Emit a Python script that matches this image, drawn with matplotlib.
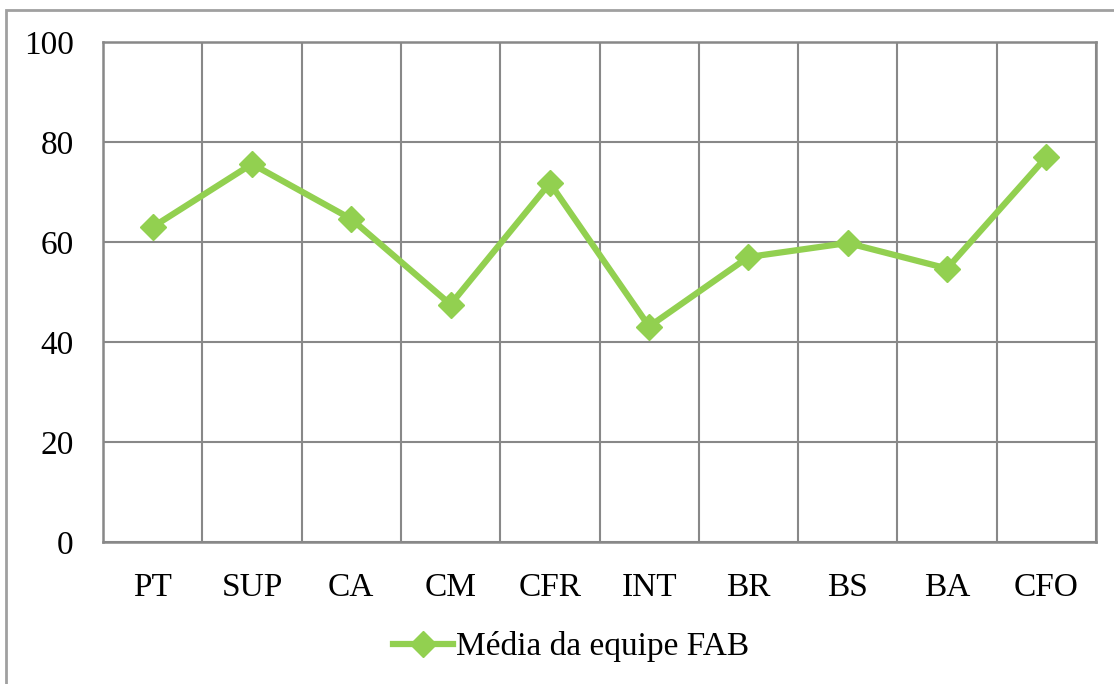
import matplotlib
matplotlib.use("Agg")
import matplotlib.pyplot as plt
import matplotlib.patches as patches

# data
categories = ["PT", "SUP", "CA", "CM", "CFR", "INT", "BR", "BS", "BA", "CFO"]
media_fab = [63.0, 75.6, 64.6, 47.5, 71.8, 43.1, 57.0, 59.8, 54.7, 77.0]
y_ticks = [0, 20, 40, 60, 80, 100]
series_label = "Média da equipe FAB"

plt.rcParams['font.family'] = ['Liberation Serif', 'DejaVu Serif']

W, H = 1114, 684
fig = plt.figure(figsize=(W / 100, H / 100), dpi=100)
fig.patch.set_facecolor('white')

# outer chart frame (cut off on the right and bottom in the reference)
frame = patches.Rectangle((6 / W, -0.1), 1.2, 1 - 10 / H + 0.1,
                          transform=fig.transFigure, fill=False,
                          edgecolor='#a0a0a0', linewidth=2, clip_on=False)
fig.patches.append(frame)

ax = fig.add_axes([103 / W, 1 - 542 / H, (1096 - 103) / W, (542 - 42) / H])

x = list(range(len(categories)))
ax.plot(x, media_fab, color='#92D050', linewidth=4.5, marker='D',
        markersize=13, solid_joinstyle='miter', label=series_label)

ax.set_xlim(-0.5, len(categories) - 0.5)
ax.set_ylim(0, 100)
ax.set_yticks(y_ticks)
ax.set_xticks(x)
ax.set_xticklabels(categories)

# vertical gridlines sit on the category boundaries
ax.set_xticks([i - 0.5 for i in range(len(categories) + 1)], minor=True)
ax.grid(True, which='minor', axis='x', color='#888888', linewidth=1.5)
ax.grid(True, which='major', axis='y', color='#888888', linewidth=1.5)
ax.set_axisbelow(True)

for s in ax.spines.values():
    s.set_color('#888888')
    s.set_linewidth(1.8)

ax.tick_params(axis='both', which='both', length=0, labelsize=24)
ax.tick_params(axis='y', pad=21)
ax.tick_params(axis='x', pad=22)

leg = ax.legend(loc='center', bbox_to_anchor=(571 / W, 1 - 647 / H),
                bbox_transform=fig.transFigure, frameon=False, fontsize=24,
                handlelength=1.8, handletextpad=0.1)

fig.savefig("out.png", dpi=100)
